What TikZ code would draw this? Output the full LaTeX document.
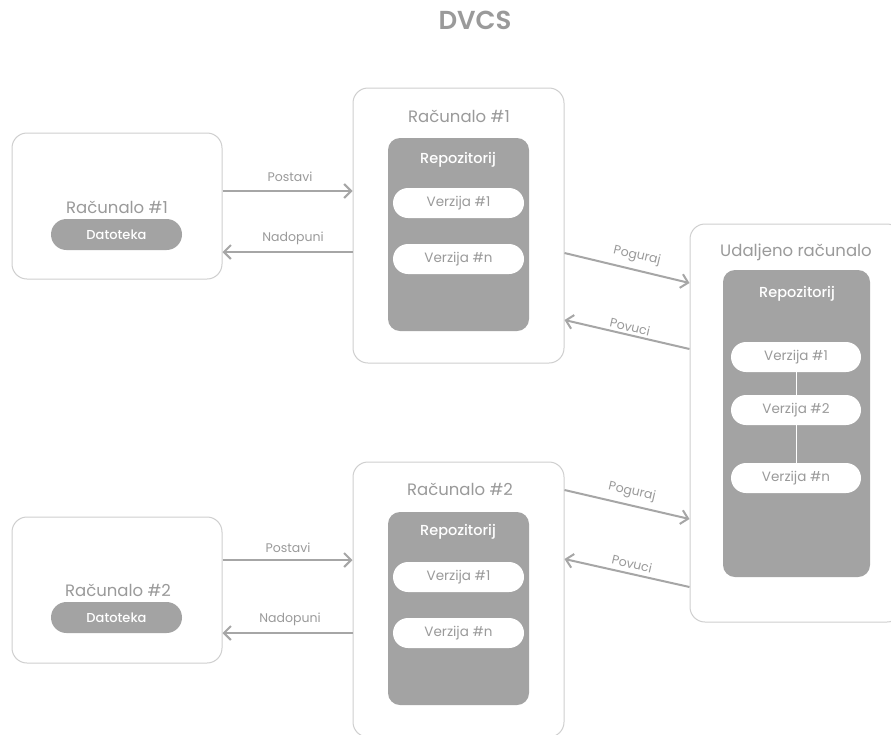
\documentclass[tikz,border=0pt]{standalone}
\usepackage{fontspec}
\setmainfont{Poppins}
\newfontfamily\pmed{Poppins Medium}
\newfontfamily\psemi{Poppins SemiBold}
\usetikzlibrary{arrows.meta}
\definecolor{bordergray}{HTML}{CFCFCF}
\definecolor{fillgray}{HTML}{A3A3A3}
\definecolor{textgray}{HTML}{9A9A9A}
\definecolor{arrowgray}{HTML}{A6A6A6}
\tikzset{
  outerbox/.style={draw=bordergray, line width=1pt, fill=white, rounded corners=15pt, inner sep=0pt},
  repobox/.style={fill=fillgray, rounded corners=12pt, inner sep=0pt},
  verpill/.style={fill=white, rounded corners=15pt, minimum width=131pt, minimum height=30pt, inner sep=0pt, text=textgray, font=\fontsize{13.5}{15}\selectfont},
  datpill/.style={fill=fillgray, rounded corners=15.5pt, minimum width=131pt, minimum height=31pt, inner sep=0pt, text=white, font=\pmed\fontsize{13}{15}\selectfont},
  boxtitle/.style={text=textgray, inner sep=0pt, font=\fontsize{16.5}{19}\selectfont},
  repotitle/.style={text=white, inner sep=0pt, font=\pmed\fontsize{14.5}{17}\selectfont},
  arrlabel/.style={text=textgray, inner sep=0pt, font=\fontsize{12.5}{15}\selectfont},
  arr/.style={draw=arrowgray, line width=2pt, -{Straight Barb[length=7pt,width=14pt,line width=2pt]}},
  vline/.style={draw=white, line width=0.8pt}
}
\begin{document}
\begin{tikzpicture}[x=1pt,y=-1pt]
\useasboundingbox (0,0) rectangle (891,734);
\fill[white] (0,0) rectangle (891,734);

\node[text=textgray, font=\psemi\fontsize{26}{30}\selectfont] (title) at (475,20) {DVCS};

% left boxes
\node[outerbox, minimum width=210pt, minimum height=146pt] (l1) at (117,206) {};
\node[boxtitle] (l1t) at (117,207) {Računalo \#1};
\node[datpill] (l1d) at (116.5,234.5) {Datoteka};

\node[outerbox, minimum width=210pt, minimum height=146pt] (l2) at (117,590) {};
\node[boxtitle] (l2t) at (118,590) {Računalo \#2};
\node[datpill] (l2d) at (116.5,617.5) {Datoteka};

% middle boxes
\node[outerbox, minimum width=211pt, minimum height=275pt] (m1) at (458.5,225.5) {};
\node[boxtitle] (m1t) at (459,116) {Računalo \#1};
\node[repobox, minimum width=141pt, minimum height=193pt] (m1r) at (458.5,234.5) {};
\node[repotitle] (m1rt) at (458,160) {Repozitorij};
\node[verpill] (m1v1) at (458.5,203) {Verzija \#1};
\node[verpill] (m1vn) at (458.5,259) {Verzija \#n};

\node[outerbox, minimum width=211pt, minimum height=275pt] (m2) at (458.5,599.5) {};
\node[boxtitle] (m2t) at (460,489) {Računalo \#2};
\node[repobox, minimum width=141pt, minimum height=193pt] (m2r) at (458.5,608.5) {};
\node[repotitle] (m2rt) at (458,532) {Repozitorij};
\node[verpill] (m2v1) at (458.5,577) {Verzija \#1};
\node[verpill] (m2vn) at (458.5,633) {Verzija \#n};

% right box
\node[outerbox, minimum width=212pt, minimum height=398pt] (r) at (796,423) {};
\node[boxtitle] (rt) at (796,252) {Udaljeno računalo};
\node[repobox, minimum width=147pt, minimum height=307pt] (rr) at (796.5,423.5) {};
\node[repotitle] (rrt) at (797,294) {Repozitorij};
\node[verpill, minimum width=130pt] (rv1) at (796,357) {Verzija \#1};
\node[verpill, minimum width=130pt] (rv2) at (796,410) {Verzija \#2};
\node[verpill, minimum width=130pt] (rvn) at (796,478) {Verzija \#n};
\draw[vline] (rv1.south) -- (rv2.north);
\draw[vline] (rv2.south) -- (rvn.north);

% arrows left <-> middle
\draw[arr] (l1.east |- 0,191) -- (m1.west |- 0,191);
\node[arrlabel] (lp1) at (290,177) {Postavi};
\draw[arr] (m1.west |- 0,252) -- (l1.east |- 0,252);
\node[arrlabel] (ln1) at (293,238) {Nadopuni};

\draw[arr] (l2.east |- 0,560) -- (m2.west |- 0,560);
\node[arrlabel] (lp2) at (288,548) {Postavi};
\draw[arr] (m2.west |- 0,633) -- (l2.east |- 0,633);
\node[arrlabel] (ln2) at (290,619) {Nadopuni};

% arrows middle <-> right
\draw[arr] (m1.east |- 0,253) -- (r.west |- 0,283);
\node[arrlabel, rotate=-13] (pg1) at (637,256) {Poguraj};
\draw[arr] (r.west |- 0,349) -- (m1.east |- 0,320);
\node[arrlabel, rotate=-13] (pv1) at (630,327) {Povuci};

\draw[arr] (m2.east |- 0,490) -- (r.west |- 0,519);
\node[arrlabel, rotate=-13] (pg2) at (632,492) {Poguraj};
\draw[arr] (r.west |- 0,587) -- (m2.east |- 0,559);
\node[arrlabel, rotate=-13] (pv2) at (632,564) {Povuci};
\end{tikzpicture}
\end{document}
